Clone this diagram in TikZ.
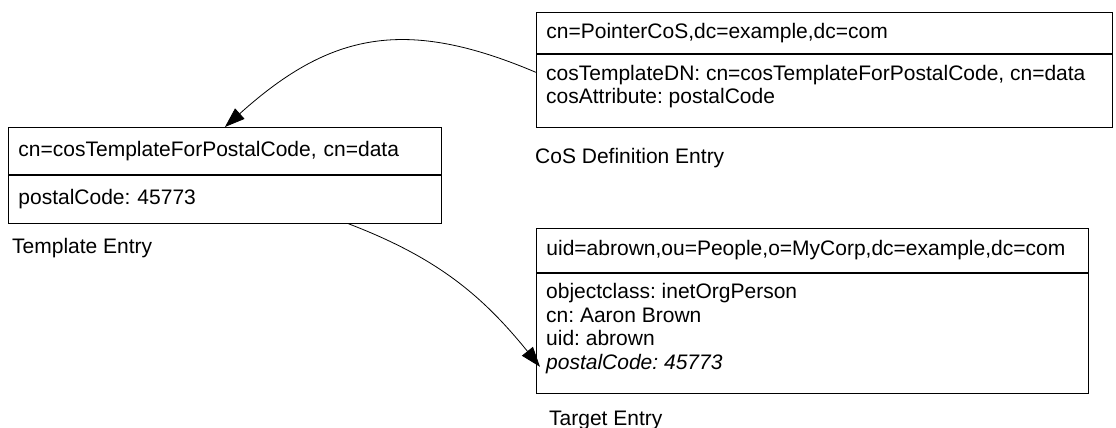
\documentclass[tikz,border=0pt]{standalone}
\usepackage{fontspec}
\setmainfont{Liberation Sans}
\usetikzlibrary{calc,arrows.meta}
\frenchspacing
\begin{document}
\begin{tikzpicture}[x=1pt,y=1pt,
  entry/.style={draw, line width=0.9pt, anchor=north west, inner xsep=10pt, inner ysep=0pt,
    align=left, font=\fontsize{21}{23.5}\selectfont},
  bodytext/.style={anchor=north west, inner sep=0pt, align=left, font=\fontsize{21}{23.5}\selectfont},
  caption/.style={anchor=west, inner sep=0pt, font=\fontsize{21}{23.5}\selectfont},
  link/.style={line width=0.8pt, -{Triangle[length=20pt,width=14pt]}}
]
\fill[white] (0,0) rectangle (1116,-428);
\useasboundingbox (0,0) rectangle (1116,-428);

% CoS definition entry
\node[entry, text width=556pt, minimum height=41pt] (cosH) at (536,-12) {cn=PointerCoS,dc=example,dc=com};
\node[entry, text width=556pt, minimum height=73pt] (cosB) at (cosH.south west) {};
\node[bodytext] (cosT) at ($(cosB.north west)+(10,-11)$)
  {cosTemplateDN: cn=cosTemplateForPostalCode, cn=data\\cosAttribute: postalCode};
\node[caption] (cosL) at (535,-158) {CoS Definition Entry};

% Template entry
\node[entry, text width=413pt, minimum height=47pt] (tplH) at (8,-127) {cn=cosTemplateForPostalCode, cn=data};
\node[entry, text width=413pt, minimum height=48pt] (tplB) at (tplH.south west) {postalCode: 45773};
\node[caption] (tplL) at (12,-248) {Template Entry};

% Target entry
\node[entry, text width=532pt, minimum height=44pt] (tgtH) at (536,-228) {uid=abrown,ou=People,o=MyCorp,dc=example,dc=com};
\node[entry, text width=532pt, minimum height=120pt] (tgtB) at (tgtH.south west) {};
\node[bodytext] (tgtT) at ($(tgtB.north west)+(10,-10.5)$)
  {objectclass: inetOrgPerson\\cn: Aaron Brown\\uid: abrown\\\textit{postalCode: 45773}};
\node[caption] (tgtL) at (549,-420) {Target Entry};

% connectors
\draw[link] ($(cosB.north west)!0.25!(cosB.south west)$) to[out=157,in=42,looseness=1.15] (tplH.north);
\draw[link] ($(tplB.south west)!0.785!(tplB.south east)$) to[out=-21,in=129] ($(tgtB.south west)+(4,27)$);
\end{tikzpicture}
\end{document}
